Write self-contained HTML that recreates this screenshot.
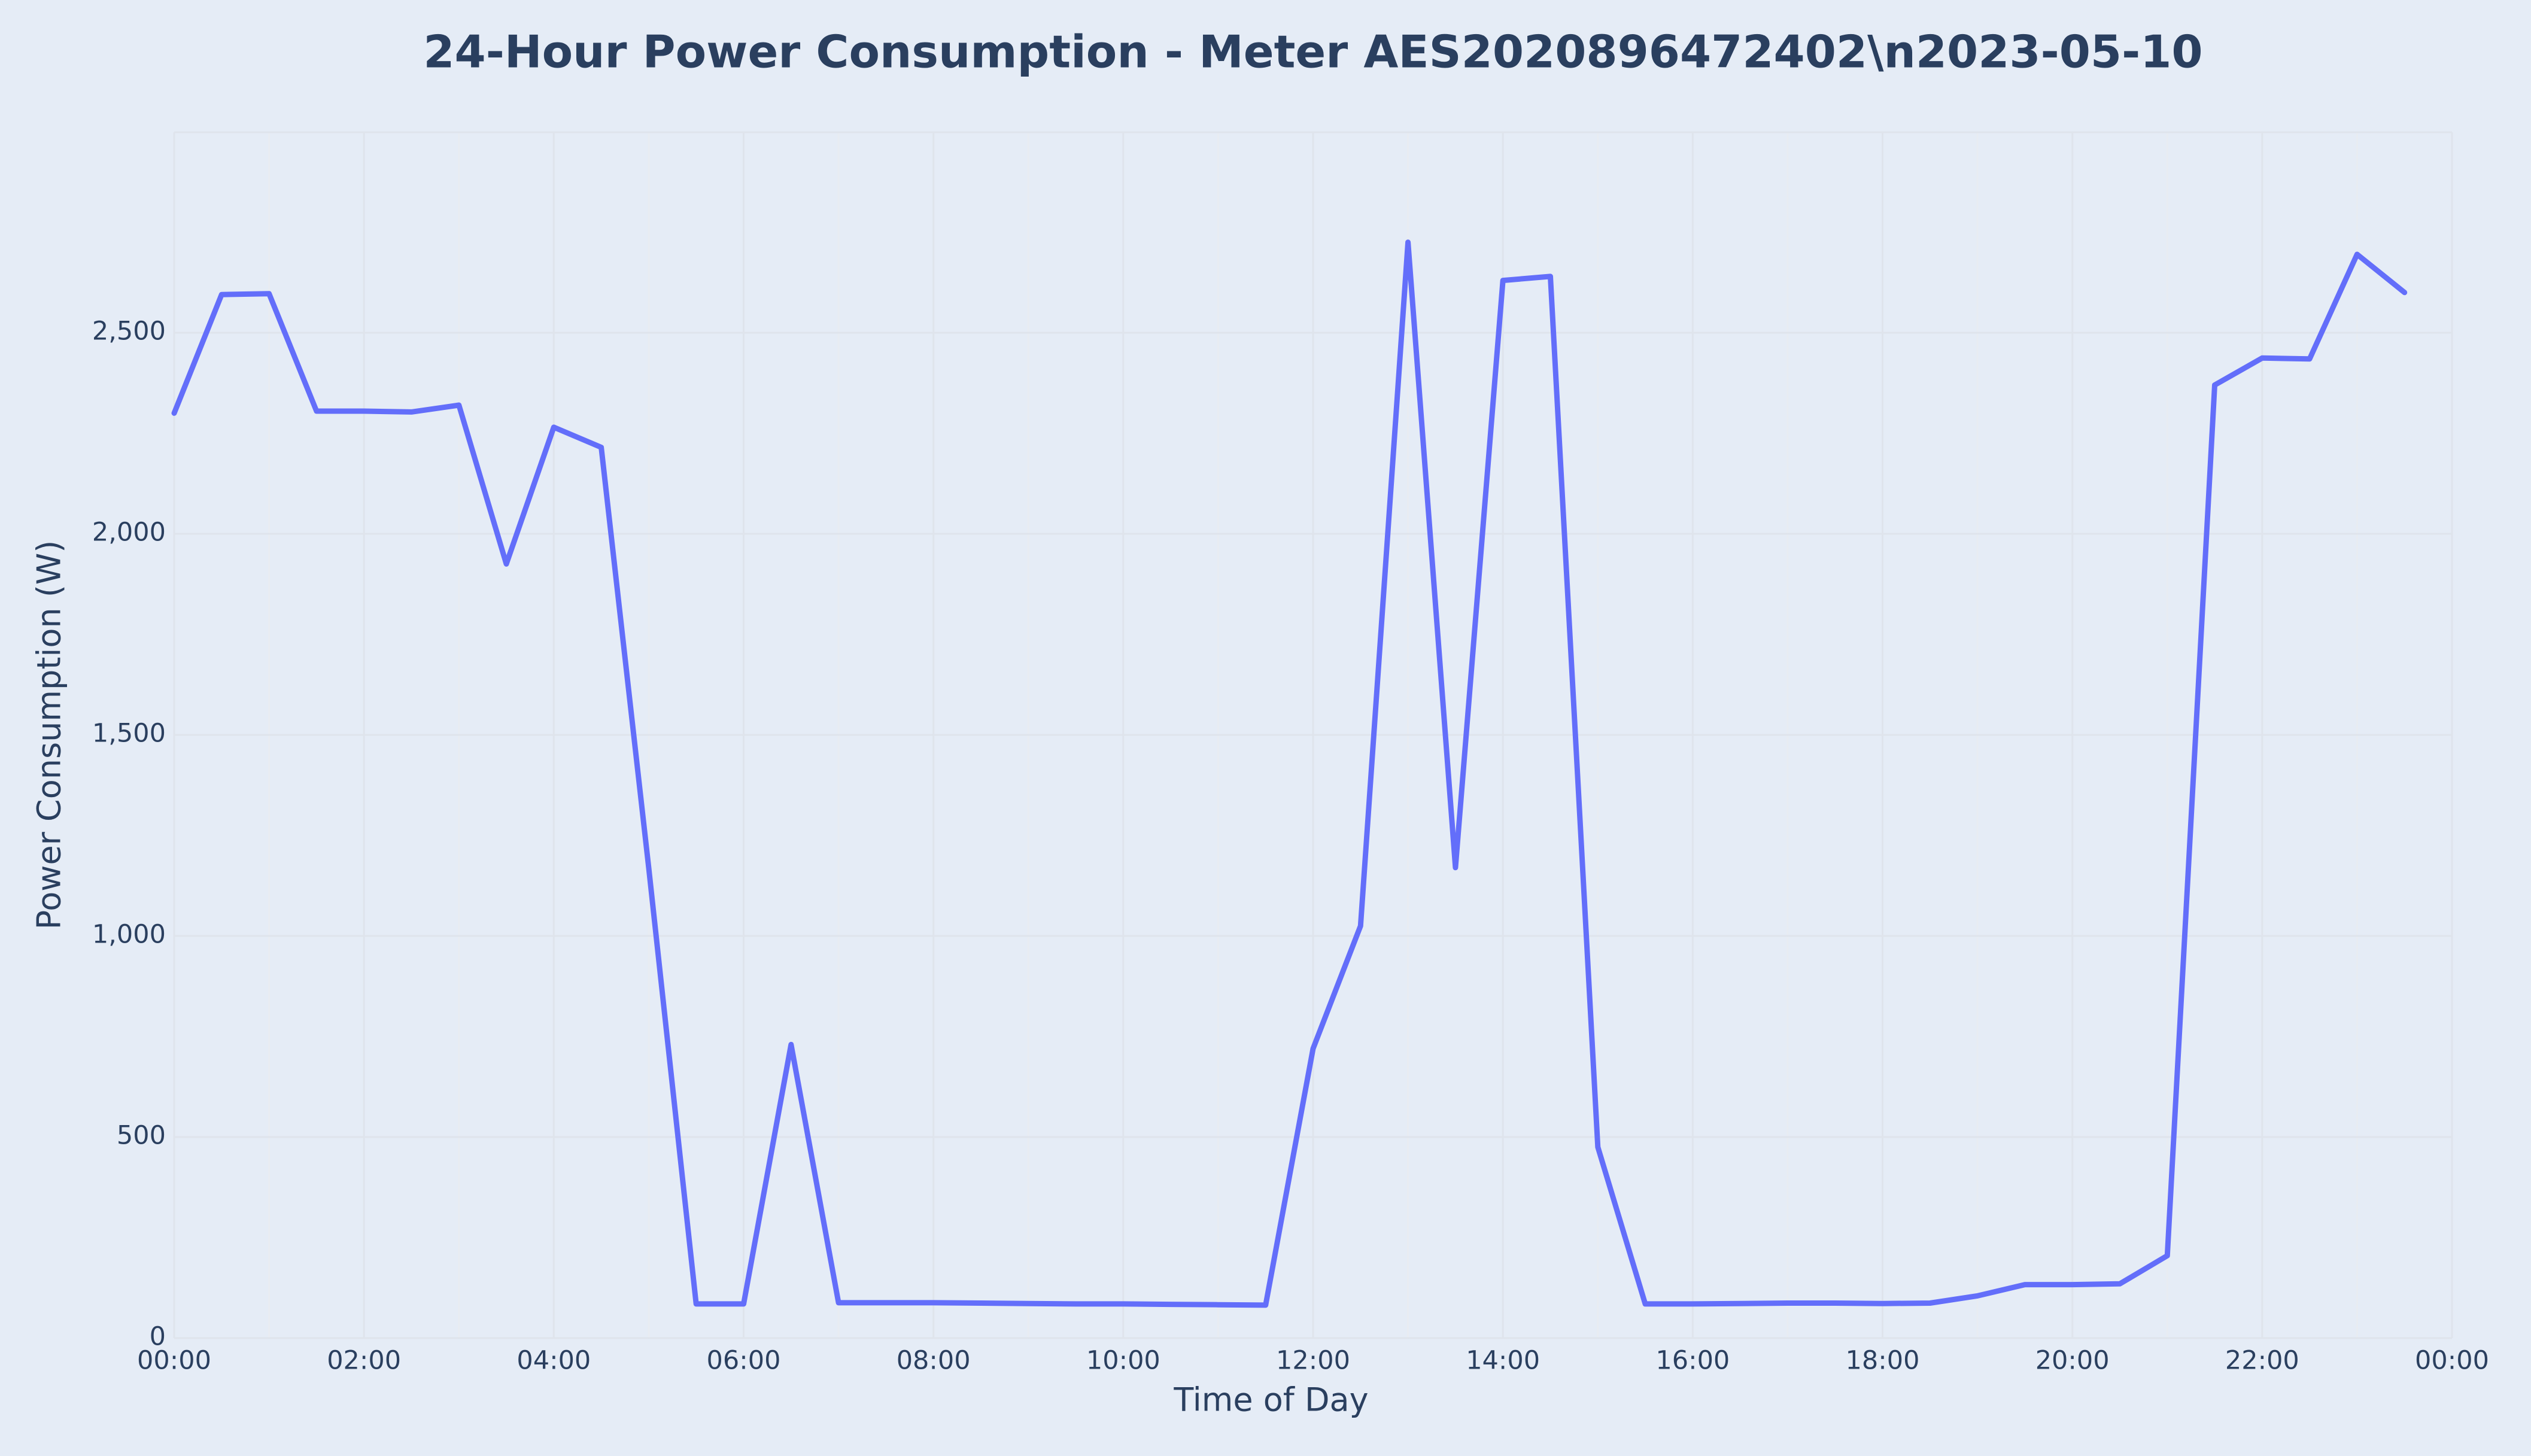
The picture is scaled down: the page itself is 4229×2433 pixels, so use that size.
<!DOCTYPE html>
<html><head><meta charset="utf-8"><style>
html,body{margin:0;padding:0;background:#E5ECF6;}
svg{display:block;font-family:"DejaVu Sans","Liberation Sans",sans-serif;}
</style></head><body>
<svg id="chart" width="4229" height="2433" viewBox="0 0 4229 2433" xmlns="http://www.w3.org/2000/svg">
<rect x="0" y="0" width="4229" height="2433" fill="#E5ECF6"/>
<text x="2194" y="92" text-anchor="middle" dominant-baseline="middle" font-size="75" font-weight="bold" fill="#2A3F5F">24-Hour Power Consumption - Meter AES2020896472402\n2023-05-10</text>
<g id="grid"></g>
<g id="ticks"></g>
<g id="series"></g>
<text x="2124" y="2343" text-anchor="middle" dominant-baseline="middle" font-size="54" fill="#2A3F5F">Time of Day</text>
<text x="86" y="1228" text-anchor="middle" dominant-baseline="middle" font-size="54" fill="#2A3F5F" transform="rotate(-90 86 1228)">Power Consumption (W)</text>
</svg>
<script>
const hours = [0,0.5,1,1.5,2,2.5,3,3.5,4,4.5,5,5.5,6,6.5,7,7.5,8,8.5,9,9.5,10,10.5,11,11.5,12,12.5,13,13.5,14,14.5,15,15.5,16,16.5,17,17.5,18,18.5,19,19.5,20,20.5,21,21.5,22,22.5,23,23.5];
const watts = [2300,2595,2597,2305,2305,2303,2320,1925,2265,2215,1170,85,85,730,88,88,88,87,86,85,85,84,83,82,720,1025,2725,1170,2630,2640,475,85,85,86,87,87,86,87,105,133,133,135,205,2370,2437,2435,2695,2600];
const xTickHours = [0,2,4,6,8,10,12,14,16,18,20,22,24];
const xTickLabels = ["00:00","02:00","04:00","06:00","08:00","10:00","12:00","14:00","16:00","18:00","20:00","22:00","00:00"];
const yTickValues = [0,500,1000,1500,2000,2500];
const yTickLabels = ["0","500","1,000","1,500","2,000","2,500"];

const NS="http://www.w3.org/2000/svg";
const X0=291,X1=4097,Y0=2236,YTOP=221;
const xs=h=>X0+(X1-X0)*h/24;
const ys=v=>Y0-(Y0-556)*v/2500;
function mk(tag,attrs,parent){const e=document.createElementNS(NS,tag);for(const k in attrs)e.setAttribute(k,attrs[k]);parent.appendChild(e);return e;}
const grid=document.getElementById('grid'),ticks=document.getElementById('ticks'),series=document.getElementById('series');
for(let h=0;h<=24;h++){
  const l=mk('line',{x1:xs(h),x2:xs(h),y1:YTOP,y2:Y0,stroke:h%2?'#e8ecf2':'#dfe4ec','stroke-width':3},grid);
  
  
}
yTickValues.forEach(v=>{
  const l=mk('line',{x1:X0,x2:X1,y1:ys(v),y2:ys(v),stroke:'#dfe4ec','stroke-width':3},grid);
  
  
});
const tb=mk('line',{x1:X0,x2:X1,y1:YTOP,y2:YTOP,stroke:'#dfe4ec','stroke-width':3},grid);


xTickHours.forEach((h,i)=>{
  const t=mk('text',{x:xs(h),y:2276,'text-anchor':'middle','dominant-baseline':'middle','font-size':43,fill:'#2A3F5F'},ticks);
  t.textContent=xTickLabels[i];
  
  
});
yTickValues.forEach((v,i)=>{
  const t=mk('text',{x:277,y:ys(v),'text-anchor':'end','dominant-baseline':'middle','font-size':43,fill:'#2A3F5F'},ticks);
  t.textContent=yTickLabels[i];
  
  
});
const pts=hours.map((h,i)=>xs(h).toFixed(1)+','+ys(watts[i]).toFixed(1)).join(' ');
const pl=mk('polyline',{points:pts,fill:'none',stroke:'#636EFA','stroke-width':9,'stroke-linejoin':'round','stroke-linecap':'round'},series);


</script>
</body></html>
